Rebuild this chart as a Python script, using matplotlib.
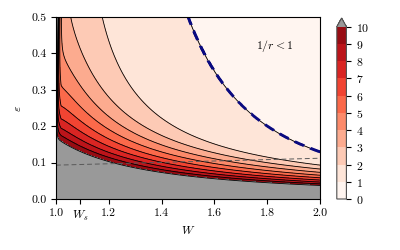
import matplotlib
matplotlib.use("Agg")
import matplotlib.pyplot as plt
from matplotlib.colors import ListedColormap
import numpy as np

plt.rcParams['font.family'] = 'serif'
plt.rcParams['font.serif'] = ['cmr10', 'DejaVu Serif']
plt.rcParams['mathtext.fontset'] = 'cm'
plt.rcParams['axes.formatter.use_mathtext'] = True
plt.rcParams['font.size'] = 8.5

# curvas: eps = a * (W - w0)**(-p)
curva_1 = [0.13, 1.0, 1.95]       # 1/r = 1 (azul)
curva_2 = [0.093, 1.0, 0.95]      # 1/r = 2
curva_10 = [0.0557, 0.6, 1.2]     # 1/r = 10 (borde gris)
# exponente de reparto entre 2 y 10: g = g0 + g1/sqrt(W-1), con tope
expo = [0.47, 0.56, 4.5]
borde = [0.0002, 0.4]             # divergencia en W = 1 (solo arriba)

niveles = np.arange(0, 11)
W_s = 1.09
linea_W = [1.0, 2.0]
linea_eps = [0.093, 0.112]

def curva(c, W):
    return c[0] * (W - c[1]) ** (-c[2])

W = np.linspace(1.0003, 2.0, 800)
eps = np.linspace(0.0005, 0.5, 600)
WW, EE = np.meshgrid(W, eps)

L1 = curva(curva_1, WW)
L2 = curva(curva_2, WW)
L10 = curva(curva_10, WW)
g = np.minimum(expo[0] + expo[1] / np.sqrt(WW - 1), expo[2])

u = np.log(L2 / EE) / np.log(L2 / L10)
Z = 2 + 8 * np.clip(u, 0, None) ** g
Z = np.where(EE > L2, 1 + np.log(L1 / EE) / np.log(L1 / L2), Z)
Z = Z + borde[0] * (EE / borde[1]) ** 3 / (WW - 1) ** 2
Z = np.where(EE > L1, 0.5, Z)

# Reds: una franja por unidad, gris por encima de 10
reds = plt.get_cmap('Reds')
cmap = ListedColormap([reds(i / 10) for i in range(10)])
cmap.set_over('#999999')

fig = plt.figure(figsize=(4, 2.5), dpi=100)
ax = fig.add_axes([0.14, 0.204, 0.66, 0.728])
cax = fig.add_axes([0.842, 0.204, 0.024, 0.724])

cs = ax.contourf(WW, EE, Z, levels=niveles, cmap=cmap, vmin=0, vmax=10,
                 extend='max')
ax.contour(WW, EE, Z, levels=niveles[1:], colors='k', linewidths=0.6)
ax.contour(WW, EE, Z, levels=[1], colors='#0a0a80', linewidths=2.0,
           linestyles=[(0, (4, 2.5))])

ax.plot(linea_W, linea_eps, color='0.35', lw=0.7, ls=(0, (5, 3)))

ax.text(1.83, 0.42, r'$1/r < 1$', ha='center', va='center')

ax.set_xlim(1.0, 2.0)
ax.set_ylim(0, 0.5)
ax.set_xticks([1.0, W_s, 1.2, 1.4, 1.6, 1.8, 2.0])
ax.set_xticklabels(['1.0', r'$W_s$', '1.2', '1.4', '1.6', '1.8', '2.0'])
ax.set_yticks(np.arange(0, 0.51, 0.1))
ax.set_yticklabels(['%.1f' % v for v in np.arange(0, 0.51, 0.1)])
ax.set_xlabel(r'$W$', labelpad=1)
ax.set_ylabel(r'$\varepsilon$', labelpad=6)

cb = fig.colorbar(cs, cax=cax, ticks=niveles)
cb.outline.set_edgecolor('0.3')

fig.savefig('out.png', dpi=100)
